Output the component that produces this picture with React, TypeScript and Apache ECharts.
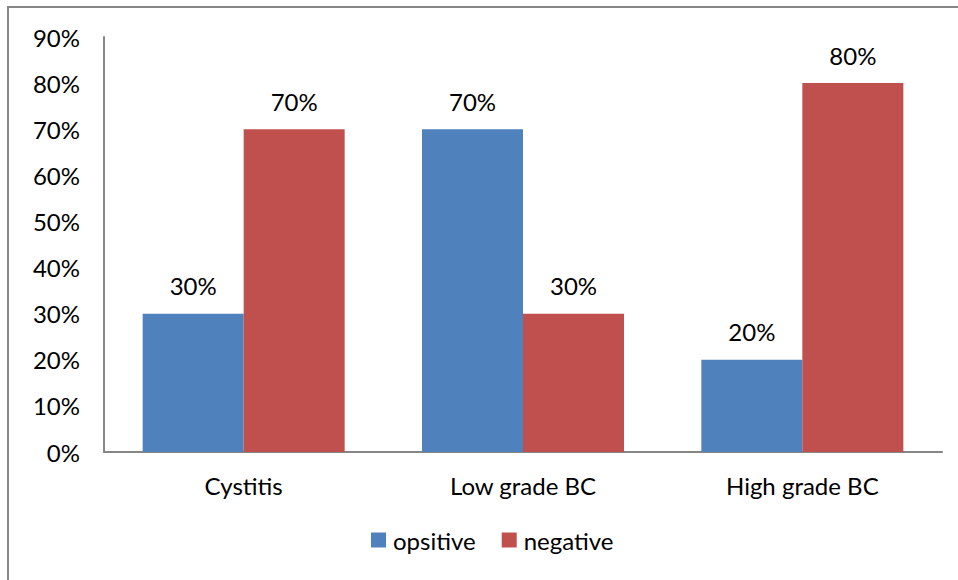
import React, { useEffect, useRef } from "react";
import * as echarts from "echarts";

const categories = ["Cystitis", "Low grade BC", "High grade BC"];
const positive = [30, 70, 20];
const negative = [70, 30, 80];
const yTicks = [0, 10, 20, 30, 40, 50, 60, 70, 80, 90];

const FONT = "Lato, 'Liberation Sans', sans-serif";
const FS = 24;

export default function App() {
  const ref = useRef<HTMLDivElement>(null);
  useEffect(() => {
    document.body.style.margin = "0";
    const chart = echarts.init(ref.current!, null, { renderer: "svg" });
    chart.setOption({
      animation: false,
      textStyle: { fontFamily: FONT },
      graphic: [
        {
          type: "rect",
          shape: { x: 8, y: 7, width: 1200, height: 1200 },
          style: { fill: "none", stroke: "#868686", lineWidth: 2 },
          silent: true,
        },
      ],
      grid: { left: 104, top: 37, right: 16, bottom: 128, containLabel: false },
      legend: {
        bottom: 23,
        left: 366,
        itemWidth: 15,
        itemHeight: 15,
        itemGap: 26,
        icon: "rect",
        textStyle: { fontSize: FS, color: "#000", fontFamily: FONT, padding: [0, 0, 0, 2] },
        data: ["opsitive", "negative"],
      },
      xAxis: {
        type: "category",
        data: categories,
        axisLine: { lineStyle: { color: "#868686", width: 2 } },
        axisTick: { show: false },
        axisLabel: { fontSize: FS, color: "#000", margin: 21, fontFamily: FONT },
      },
      yAxis: {
        type: "value",
        min: 0,
        max: yTicks[yTicks.length - 1],
        interval: 10,
        axisLine: { show: true, lineStyle: { color: "#868686", width: 2 } },
        axisTick: { show: false },
        splitLine: { show: false },
        axisLabel: {
          fontSize: FS,
          color: "#000",
          margin: 24,
          fontFamily: FONT,
          formatter: (v: number) => v + "%",
        },
      },
      series: [
        {
          name: "opsitive",
          type: "bar",
          data: positive,
          barWidth: 101,
          barGap: "0%",
          itemStyle: { color: "#4F81BD" },
          label: {
            show: true,
            position: "top",
            distance: 16,
            fontSize: FS,
            color: "#000",
            fontFamily: FONT,
            formatter: (p: any) => p.value + "%",
          },
        },
        {
          name: "negative",
          type: "bar",
          data: negative,
          barWidth: 101,
          barGap: "0%",
          itemStyle: { color: "#C0504D" },
          label: {
            show: true,
            position: "top",
            distance: 16,
            fontSize: FS,
            color: "#000",
            fontFamily: FONT,
            formatter: (p: any) => p.value + "%",
          },
        },
      ],
    });
    return () => chart.dispose();
  }, []);
  return <div ref={ref} style={{ width: 958, height: 580 }} />;
}
